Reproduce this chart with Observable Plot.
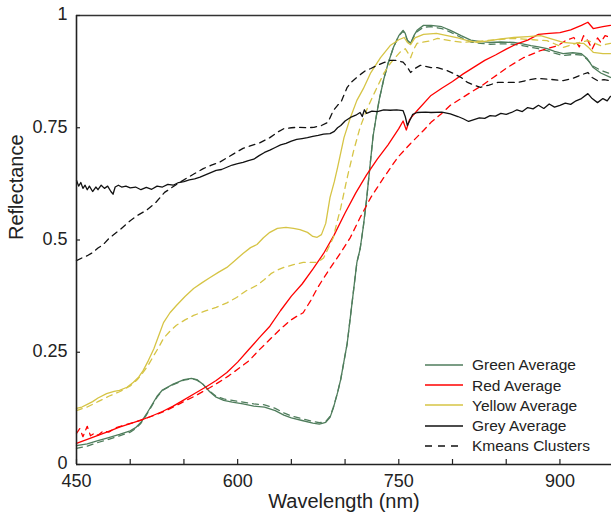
<!DOCTYPE html>
<html><head><meta charset="utf-8">
<script src="https://cdn.jsdelivr.net/npm/d3@7"></script>
<script src="https://cdn.jsdelivr.net/npm/@observablehq/plot@0.6"></script>
<style>
body{margin:0;background:#fff;font-family:"Liberation Sans",Arial,Helvetica,sans-serif;}
#wrap{position:relative;width:611px;height:518px;overflow:hidden}
#legend{position:absolute;left:425px;top:355px;font-size:15.5px;color:#222;line-height:1}
.row{display:flex;align-items:center;height:20.2px;white-space:nowrap}
.row svg{margin-right:9px;flex:none}
</style></head><body><div id="wrap"></div>
<script>
// ---- data: [wavelength nm, reflectance] ----
const greenAvg = [[450,0.042],[460,0.046],[470,0.053],[480,0.060],[490,0.067],[500,0.075],[505,0.082],[510,0.094],[515,0.112],[520,0.132],[525,0.152],[530,0.166],[540,0.179],[550,0.189],[557,0.192],[562,0.189],[568,0.178],[574,0.162],[580,0.150],[587,0.143],[595,0.139],[605,0.135],[615,0.130],[625,0.128],[635,0.120],[643,0.110],[650,0.104],[660,0.098],[670,0.092],[676,0.090],[682,0.094],[686,0.105],[689,0.125],[693,0.16],[696,0.19],[699,0.23],[702,0.27],[705,0.33],[708,0.39],[711,0.45],[714,0.48],[717,0.53],[720,0.59],[723,0.66],[726,0.73],[729,0.775],[732,0.815],[736,0.858],[740,0.893],[745,0.929],[750,0.955],[754,0.967],[756,0.960],[758,0.945],[761,0.938],[764,0.955],[767,0.967],[773,0.978],[780,0.978],[790,0.975],[798,0.967],[808,0.955],[817,0.945],[826,0.942],[835,0.940],[845,0.941],[857,0.940],[865,0.937],[873,0.933],[880,0.930],[888,0.926],[895,0.920],[903,0.915],[912,0.917],[920,0.915],[925,0.905],[931,0.884],[938,0.872],[947,0.862]];
const greenKm = [[450,0.036],[460,0.041],[470,0.049],[480,0.056],[490,0.064],[500,0.072],[505,0.080],[510,0.092],[515,0.110],[520,0.130],[525,0.150],[530,0.165],[540,0.178],[550,0.188],[557,0.191],[562,0.188],[568,0.178],[574,0.163],[580,0.152],[587,0.146],[595,0.143],[605,0.139],[615,0.135],[625,0.133],[635,0.125],[643,0.115],[650,0.108],[660,0.102],[670,0.096],[676,0.093],[682,0.096],[686,0.107],[689,0.127],[693,0.16],[696,0.19],[699,0.23],[702,0.27],[705,0.33],[708,0.39],[711,0.45],[714,0.48],[717,0.53],[720,0.59],[723,0.66],[726,0.73],[729,0.775],[732,0.815],[736,0.858],[740,0.893],[745,0.929],[750,0.955],[754,0.965],[756,0.958],[758,0.944],[761,0.937],[764,0.953],[767,0.964],[773,0.974],[780,0.975],[790,0.971],[798,0.963],[808,0.951],[817,0.941],[826,0.938],[835,0.936],[845,0.937],[857,0.936],[865,0.933],[873,0.929],[880,0.926],[888,0.922],[895,0.916],[903,0.911],[912,0.913],[920,0.912],[925,0.903],[931,0.887],[938,0.878],[947,0.870]];
const redAvg = [[450,0.047],[460,0.056],[470,0.065],[480,0.074],[490,0.083],[500,0.091],[510,0.099],[520,0.108],[530,0.118],[540,0.130],[550,0.144],[560,0.158],[570,0.172],[580,0.187],[590,0.205],[600,0.228],[610,0.255],[620,0.282],[630,0.308],[640,0.343],[650,0.375],[660,0.402],[670,0.435],[680,0.47],[690,0.512],[700,0.56],[710,0.605],[720,0.645],[730,0.68],[740,0.712],[750,0.748],[754,0.765],[757,0.745],[760,0.768],[767,0.788],[780,0.822],[790,0.838],[800,0.853],[810,0.87],[820,0.885],[830,0.9],[840,0.912],[850,0.925],[860,0.937],[870,0.945],[880,0.958],[890,0.96],[900,0.962],[910,0.968],[920,0.978],[926,0.985],[931,0.971],[940,0.975],[947,0.978]];
const redKm = [[450,0.069],[453,0.08],[456,0.062],[460,0.085],[463,0.064],[467,0.07],[470,0.065],[475,0.075],[480,0.072],[487,0.082],[495,0.088],[505,0.095],[515,0.103],[525,0.112],[535,0.122],[545,0.134],[552,0.143],[560,0.152],[574,0.171],[583,0.184],[592,0.198],[600,0.212],[611,0.232],[620,0.255],[631,0.281],[640,0.302],[649,0.321],[655,0.330],[661,0.338],[668,0.365],[674,0.392],[680,0.415],[686,0.437],[696,0.472],[705,0.506],[714,0.55],[724,0.595],[736,0.639],[749,0.684],[761,0.715],[773,0.744],[780,0.762],[790,0.782],[798,0.80],[808,0.815],[817,0.829],[828,0.845],[838,0.862],[851,0.884],[866,0.906],[882,0.922],[898,0.933],[906,0.945],[913,0.951],[918,0.93],[922,0.955],[926,0.944],[930,0.925],[935,0.95],[938,0.94],[942,0.955],[947,0.951]];
const yellowAvg = [[450,0.125],[455,0.128],[460,0.134],[465,0.14],[470,0.148],[478,0.158],[485,0.163],[490,0.165],[497,0.172],[503,0.183],[508,0.195],[512,0.209],[517,0.232],[522,0.258],[527,0.29],[531,0.316],[537,0.338],[543,0.354],[551,0.374],[559,0.392],[567,0.405],[574,0.416],[582,0.428],[590,0.439],[597,0.453],[605,0.47],[612,0.483],[618,0.49],[624,0.505],[630,0.517],[637,0.526],[645,0.528],[652,0.526],[658,0.523],[665,0.517],[670,0.508],[674,0.506],[678,0.512],[682,0.537],[686,0.595],[690,0.63],[693,0.661],[699,0.728],[705,0.773],[711,0.811],[717,0.837],[724,0.873],[733,0.906],[742,0.933],[750,0.946],[755,0.951],[758,0.94],[761,0.935],[765,0.95],[773,0.958],[785,0.96],[795,0.955],[805,0.95],[814,0.944],[823,0.94],[835,0.944],[845,0.948],[857,0.951],[870,0.953],[882,0.955],[892,0.948],[903,0.94],[913,0.938],[922,0.938],[927,0.928],[931,0.918],[940,0.915],[947,0.915]];
const yellowKm = [[450,0.12],[460,0.128],[470,0.14],[480,0.152],[490,0.162],[500,0.175],[507,0.19],[512,0.205],[517,0.222],[522,0.243],[527,0.263],[531,0.281],[537,0.297],[543,0.31],[551,0.322],[559,0.332],[570,0.342],[580,0.35],[590,0.36],[599,0.372],[608,0.387],[618,0.399],[625,0.412],[631,0.425],[637,0.433],[643,0.439],[652,0.445],[661,0.45],[674,0.45],[680,0.46],[684,0.48],[689,0.505],[692,0.535],[696,0.572],[702,0.639],[708,0.699],[714,0.751],[721,0.795],[727,0.826],[736,0.871],[742,0.893],[751,0.918],[756,0.926],[759,0.915],[761,0.906],[764,0.925],[767,0.938],[780,0.944],[786,0.949],[798,0.944],[810,0.94],[830,0.944],[857,0.949],[875,0.946],[888,0.944],[903,0.929],[915,0.938],[926,0.944],[938,0.933],[947,0.938]];
const greyAvg = [[450,0.633],[452,0.62],[454,0.628],[456,0.615],[458,0.622],[460,0.612],[462,0.62],[465,0.608],[468,0.618],[470,0.612],[473,0.622],[476,0.615],[479,0.62],[482,0.608],[484,0.602],[486,0.618],[489,0.622],[492,0.618],[496,0.62],[500,0.616],[505,0.618],[510,0.612],[515,0.617],[520,0.613],[525,0.62],[530,0.618],[535,0.624],[540,0.622],[545,0.628],[550,0.63],[555,0.634],[560,0.636],[565,0.64],[570,0.645],[575,0.65],[580,0.655],[585,0.657],[590,0.662],[595,0.667],[600,0.67],[605,0.673],[610,0.677],[615,0.68],[620,0.688],[625,0.695],[630,0.7],[635,0.706],[640,0.712],[645,0.715],[650,0.72],[655,0.724],[660,0.726],[665,0.728],[670,0.731],[675,0.733],[680,0.736],[686,0.737],[690,0.742],[693,0.75],[696,0.755],[700,0.765],[705,0.773],[710,0.778],[714,0.784],[716,0.775],[718,0.79],[720,0.782],[725,0.787],[730,0.786],[736,0.79],[742,0.789],[748,0.79],[754,0.788],[756,0.775],[758,0.755],[760,0.765],[763,0.78],[767,0.784],[775,0.785],[780,0.784],[790,0.785],[798,0.781],[805,0.775],[810,0.77],[815,0.764],[820,0.768],[825,0.772],[830,0.771],[835,0.777],[840,0.776],[845,0.782],[850,0.78],[855,0.784],[860,0.79],[865,0.786],[870,0.795],[875,0.792],[880,0.80],[885,0.793],[890,0.803],[895,0.796],[900,0.80],[905,0.805],[910,0.802],[915,0.81],[920,0.815],[926,0.826],[930,0.815],[935,0.806],[940,0.815],[944,0.81],[947,0.82]];
const greyKm = [[450,0.454],[455,0.46],[460,0.465],[465,0.472],[470,0.482],[475,0.49],[480,0.503],[490,0.522],[500,0.543],[507,0.555],[515,0.566],[524,0.584],[532,0.606],[542,0.622],[552,0.637],[560,0.648],[568,0.659],[575,0.666],[583,0.673],[590,0.683],[597,0.693],[605,0.704],[611,0.709],[621,0.717],[630,0.728],[637,0.74],[643,0.748],[650,0.75],[656,0.751],[664,0.75],[671,0.751],[678,0.755],[684,0.762],[689,0.788],[693,0.80],[696,0.806],[699,0.823],[702,0.84],[706,0.852],[711,0.862],[715,0.87],[719,0.877],[724,0.882],[730,0.889],[736,0.895],[742,0.9],[748,0.9],[754,0.896],[758,0.885],[761,0.873],[765,0.882],[770,0.889],[780,0.884],[786,0.884],[794,0.878],[801,0.871],[808,0.862],[814,0.851],[820,0.845],[826,0.84],[834,0.845],[842,0.851],[852,0.851],[861,0.851],[870,0.856],[879,0.86],[890,0.858],[903,0.855],[912,0.86],[920,0.868],[926,0.873],[930,0.862],[935,0.855],[941,0.857],[947,0.855]];

const legendLabels = ["Green Average","Red Average","Yellow Average","Grey Average","Kmeans Clusters"];
const xLabelTicks = [450,600,750,900];
const xMinorTicks = [450,500,550,600,650,700,750,800,850,900];
const yTicks = [0,0.25,0.5,0.75,1];

const GREEN = "#4f7d5c", RED = "#ff0000", YELLOW = "#d6c445", BLACK = "#111111";
const DASH = "6,5";

const series = [
  {pts: greenAvg, color: GREEN, dash: null},
  {pts: greenKm, color: GREEN, dash: DASH},
  {pts: redAvg, color: RED, dash: null},
  {pts: redKm, color: RED, dash: DASH},
  {pts: yellowAvg, color: YELLOW, dash: null},
  {pts: yellowKm, color: YELLOW, dash: DASH},
  {pts: greyAvg, color: BLACK, dash: null},
  {pts: greyKm, color: BLACK, dash: DASH}
];

const font = '"Liberation Sans", Arial, Helvetica, sans-serif';
const chart = Plot.plot({
  width: 611, height: 518,
  marginLeft: 76, marginRight: 0, marginTop: 15, marginBottom: 54,
  x: {domain: [450, 948]},
  y: {domain: [0, 1]},
  style: {fontFamily: font, color: "#222", background: "white"},
  marks: [
    ...series.map(s => Plot.line(s.pts, {x: d => d[0], y: d => d[1], stroke: s.color, strokeWidth: 1.3, strokeDasharray: s.dash, curve: "linear"})),
    Plot.ruleY([0], {stroke: "#222", strokeWidth: 1.6}),
    Plot.ruleY([1], {stroke: "#333", strokeWidth: 1.6}),
    Plot.ruleX([450], {stroke: "#222", strokeWidth: 1.6}),
    Plot.axisX({ticks: xMinorTicks, tickSize: 5, dy: -5, tickFormat: () => "", label: null, stroke: "#222", strokeWidth: 1.2}),
    Plot.axisX({ticks: xLabelTicks, tickSize: 0, tickPadding: 10, fontSize: 18, label: null, tickFormat: d => String(d)}),
    Plot.axisY({ticks: yTicks, tickSize: 4, dx: 4, tickFormat: () => "", label: null, stroke: "#222", strokeWidth: 1.2}),
    Plot.axisY({ticks: yTicks, tickSize: 0, tickPadding: 9, dy: -1, fontSize: 18, label: null, tickFormat: d => String(d)}),
    Plot.text(["Reflectance"], {text: d => d, frameAnchor: "left", dx: -60, rotate: -90, fontSize: 20, fill: "#222"}),
    Plot.text(["Wavelength (nm)"], {text: d => d, frameAnchor: "bottom", dy: 37, fontSize: 20, fill: "#222", lineAnchor: "middle"})
  ]
});
const wrap = document.getElementById("wrap");
wrap.appendChild(chart);

// legend overlay
const legendColors = [GREEN, RED, YELLOW, BLACK, BLACK];
const legendDash = [null, null, null, null, DASH];
const leg = document.createElement("div");
leg.id = "legend";
legendLabels.forEach((lab, i) => {
  const row = document.createElement("div");
  row.className = "row";
  const svg = d3.create("svg").attr("width", 38).attr("height", 4);
  svg.append("line").attr("x1", 0).attr("x2", 38).attr("y1", 2).attr("y2", 2)
    .attr("stroke", legendColors[i]).attr("stroke-width", 1.3)
    .attr("stroke-dasharray", legendDash[i] ? "7,6" : null);
  row.appendChild(svg.node());
  const t = document.createElement("span");
  t.textContent = lab;
  row.appendChild(t);
  leg.appendChild(row);
});
wrap.appendChild(leg);
</script>
</body></html>
